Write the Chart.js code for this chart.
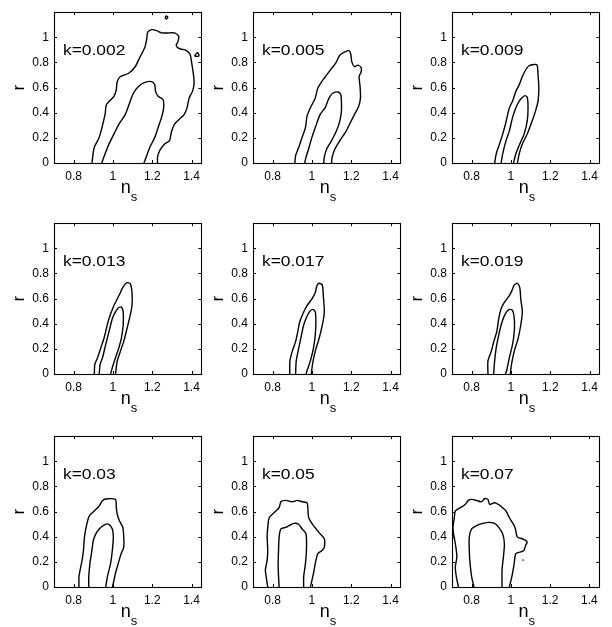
<!DOCTYPE html>
<html>
<head>
<meta charset="utf-8">
<script src="https://cdn.jsdelivr.net/npm/chart.js@4/dist/chart.umd.min.js"></script>
<style>
  html, body { margin: 0; padding: 0; background: #fff; overflow: hidden; }
  #wrap { position: relative; width: 612px; height: 627px; }
  #wrap canvas { position: absolute; }
</style>
</head>
<body>
<div id="wrap"></div>
<script>
// Axis ticks shared by every panel
const xTicks = [0.8, 1, 1.2, 1.4];
const yTicks = [0, 0.2, 0.4, 0.6, 0.8, 1];
const kLabels = ["k=0.002", "k=0.005", "k=0.009", "k=0.013", "k=0.017", "k=0.019", "k=0.03", "k=0.05", "k=0.07"];

// Contours, as [ns, r] pairs
const outer002 = [[0.893,0],[0.905,0.125],[0.930,0.204],[0.960,0.387],[0.967,0.465],[1.005,0.531],[1.017,0.583],[1.022,0.648],[1.038,0.688],[1.080,0.714],[1.113,0.766],[1.138,0.844],[1.163,0.923],[1.172,0.988],[1.177,1.041],[1.197,1.061],[1.222,1.054],[1.247,1.035],[1.280,1.035],[1.313,1.035],[1.335,1.009],[1.330,0.962],[1.322,0.936],[1.338,0.910],[1.372,0.897],[1.393,0.863],[1.400,0.805],[1.410,0.701],[1.413,0.635],[1.405,0.570],[1.388,0.518],[1.377,0.439],[1.363,0.387],[1.338,0.348],[1.313,0.308],[1.297,0.243],[1.288,0.178],[1.263,0.152],[1.238,0.099],[1.227,0.047],[1.227,0]];
const inner002 = [[0.943,0],[0.960,0.073],[0.980,0.152],[1.005,0.230],[1.030,0.308],[1.063,0.387],[1.088,0.492],[1.105,0.557],[1.130,0.609],[1.163,0.641],[1.197,0.648],[1.213,0.622],[1.217,0.570],[1.230,0.531],[1.255,0.505],[1.258,0.439],[1.247,0.361],[1.230,0.282],[1.213,0.204],[1.188,0.125],[1.172,0.060],[1.158,0]];
const islandA002 = [[1.265,1.158],[1.272,1.170],[1.279,1.158],[1.272,1.146],[1.265,1.158]];
const islandB002 = [[1.415,0.850],[1.430,0.880],[1.438,0.850],[1.415,0.850]];

const outer005 = [[0.913,0],[0.917,0.060],[0.933,0.125],[0.950,0.204],[0.967,0.282],[0.975,0.374],[0.992,0.439],[1.017,0.518],[1.030,0.596],[1.050,0.648],[1.075,0.701],[1.100,0.753],[1.120,0.792],[1.142,0.858],[1.167,0.884],[1.187,0.894],[1.197,0.871],[1.203,0.805],[1.217,0.766],[1.233,0.779],[1.250,0.761],[1.250,0.722],[1.240,0.688],[1.245,0.609],[1.247,0.518],[1.238,0.452],[1.217,0.387],[1.200,0.335],[1.175,0.256],[1.142,0.178],[1.117,0.112],[1.103,0.047],[1.100,0]];
const inner005 = [[0.963,0],[0.970,0.047],[0.983,0.112],[1.000,0.204],[1.017,0.282],[1.042,0.387],[1.067,0.439],[1.080,0.492],[1.092,0.531],[1.108,0.557],[1.133,0.565],[1.147,0.544],[1.150,0.492],[1.150,0.413],[1.142,0.335],[1.125,0.256],[1.100,0.178],[1.075,0.112],[1.063,0.047],[1.060,0]];

const outer009 = [[0.917,0],[0.925,0.073],[0.942,0.152],[0.958,0.230],[0.972,0.308],[0.992,0.439],[1.008,0.492],[1.025,0.570],[1.042,0.622],[1.058,0.688],[1.075,0.740],[1.092,0.774],[1.117,0.784],[1.133,0.779],[1.138,0.701],[1.142,0.596],[1.138,0.492],[1.125,0.413],[1.108,0.335],[1.083,0.230],[1.058,0.152],[1.042,0.073],[1.033,0]];
const inner009 = [[0.950,0],[0.958,0.073],[0.975,0.178],[0.992,0.256],[1.008,0.361],[1.025,0.439],[1.042,0.492],[1.055,0.518],[1.072,0.536],[1.083,0.523],[1.087,0.439],[1.083,0.335],[1.067,0.230],[1.045,0.152],[1.025,0.073],[1.013,0]];

const outer013 = [[0.905,0],[0.908,0.078],[0.922,0.130],[0.938,0.208],[0.955,0.286],[0.967,0.364],[0.980,0.442],[1.005,0.545],[1.022,0.597],[1.038,0.649],[1.055,0.701],[1.072,0.727],[1.088,0.719],[1.097,0.649],[1.097,0.545],[1.088,0.468],[1.072,0.364],[1.055,0.260],[1.038,0.182],[1.022,0.104],[1.013,0]];
const inner013 = [[0.930,0],[0.935,0.078],[0.947,0.130],[0.963,0.234],[0.980,0.338],[0.997,0.442],[1.013,0.494],[1.027,0.525],[1.043,0.532],[1.052,0.494],[1.052,0.390],[1.043,0.286],[1.030,0.208],[1.013,0.130],[0.997,0.052],[0.988,0]];

const outer017 = [[0.887,0],[0.888,0.104],[0.900,0.182],[0.917,0.260],[0.928,0.338],[0.938,0.416],[0.958,0.494],[0.975,0.545],[1.000,0.597],[1.017,0.649],[1.025,0.701],[1.037,0.722],[1.053,0.706],[1.058,0.623],[1.063,0.494],[1.053,0.390],[1.037,0.286],[1.017,0.182],[1.003,0.078],[0.997,0]];
const inner017 = [[0.917,0],[0.920,0.104],[0.933,0.208],[0.947,0.312],[0.958,0.390],[0.970,0.442],[0.987,0.494],[1.003,0.514],[1.017,0.494],[1.020,0.416],[1.017,0.312],[1.008,0.208],[0.992,0.104],[0.975,0.026],[0.970,0]];

const outer019 = [[0.883,0],[0.883,0.104],[0.900,0.182],[0.913,0.260],[0.928,0.338],[0.938,0.442],[0.950,0.519],[0.967,0.571],[0.992,0.623],[1.008,0.675],[1.017,0.709],[1.033,0.722],[1.045,0.688],[1.050,0.597],[1.058,0.494],[1.050,0.390],[1.037,0.286],[1.017,0.182],[1.003,0.078],[0.997,0]];
const inner019 = [[0.912,0],[0.917,0.104],[0.925,0.208],[0.938,0.312],[0.955,0.416],[0.972,0.481],[0.992,0.514],[1.008,0.506],[1.017,0.442],[1.017,0.338],[1.008,0.234],[0.992,0.130],[0.978,0.026],[0.972,0]];

const outer03 = [[0.827,0],[0.827,0.083],[0.833,0.136],[0.843,0.214],[0.850,0.292],[0.855,0.397],[0.867,0.501],[0.880,0.566],[0.905,0.605],[0.930,0.644],[0.947,0.689],[0.972,0.702],[1.013,0.697],[1.017,0.631],[1.022,0.579],[1.033,0.527],[1.050,0.475],[1.055,0.397],[1.055,0.318],[1.042,0.266],[1.027,0.188],[1.013,0.110],[1.002,0.031],[0.997,0]];
const inner03 = [[0.877,0],[0.877,0.083],[0.883,0.188],[0.893,0.292],[0.900,0.370],[0.913,0.423],[0.930,0.462],[0.955,0.493],[0.977,0.501],[0.997,0.462],[1.002,0.397],[0.997,0.292],[0.988,0.188],[0.972,0.083],[0.963,0]];

const outer05 = [[0.775,0],[0.767,0.083],[0.763,0.136],[0.772,0.214],[0.775,0.292],[0.772,0.397],[0.775,0.475],[0.783,0.553],[0.808,0.592],[0.833,0.631],[0.842,0.678],[0.867,0.689],[0.900,0.678],[0.925,0.689],[0.950,0.678],[0.975,0.670],[0.980,0.605],[0.983,0.553],[1.008,0.488],[1.042,0.423],[1.063,0.384],[1.063,0.318],[1.053,0.292],[1.030,0.266],[1.017,0.188],[1.008,0.110],[0.997,0.031],[0.992,0]];
const inner05 = [[0.833,0],[0.830,0.083],[0.828,0.188],[0.830,0.292],[0.833,0.397],[0.842,0.462],[0.867,0.475],[0.883,0.488],[0.908,0.506],[0.930,0.501],[0.950,0.462],[0.970,0.423],[0.972,0.292],[0.967,0.188],[0.958,0.083],[0.958,0]];

const outer07 = [[0.733,0],[0.722,0.083],[0.717,0.162],[0.725,0.240],[0.717,0.344],[0.708,0.423],[0.705,0.475],[0.712,0.553],[0.717,0.605],[0.742,0.631],[0.767,0.657],[0.783,0.689],[0.800,0.697],[0.825,0.689],[0.850,0.678],[0.867,0.704],[0.883,0.697],[0.892,0.657],[0.917,0.670],[0.942,0.652],[0.958,0.631],[0.975,0.605],[0.992,0.553],[1.017,0.488],[1.025,0.449],[1.033,0.397],[1.058,0.384],[1.075,0.371],[1.083,0.357],[1.075,0.331],[1.067,0.292],[1.050,0.279],[1.025,0.266],[1.017,0.188],[1.005,0.083],[0.992,0]];
const inner07 = [[0.812,0],[0.800,0.083],[0.792,0.188],[0.788,0.292],[0.788,0.397],[0.800,0.462],[0.825,0.488],[0.858,0.506],[0.888,0.514],[0.917,0.506],[0.938,0.475],[0.958,0.423],[0.967,0.344],[0.962,0.240],[0.955,0.136],[0.955,0]];
const speck07 = [[1.062,0.214]];

const panelContours = [
  [outer002, inner002, islandA002, islandB002],
  [outer005, inner005],
  [outer009, inner009],
  [outer013, inner013],
  [outer017, inner017],
  [outer019, inner019],
  [outer03, inner03],
  [outer05, inner05],
  [outer07, inner07]
];
const panelSpecks = [[], [], [], [], [], [], [], [], speck07];

// Layout of the 3x3 grid (left/top of each canvas)
const colLeft = [6, 205, 404];
const rowTop = [0, 211, 424];
const CW = 200, CH = 203;
const FONT = '"Liberation Sans", Arial, Helvetica, sans-serif';

// Frame, inward ticks, panel label and axis titles
const framePlugin = {
  id: "frame",
  afterDraw(chart, args, opts) {
    const { ctx, chartArea: a, scales: { x, y } } = chart;
    ctx.save();
    ctx.strokeStyle = "#000";
    ctx.lineWidth = 1.1;
    ctx.strokeRect(Math.round(a.left) + 0.5, Math.round(a.top) + 0.5, Math.round(a.width), Math.round(a.height));

    ctx.lineWidth = 1;
    ctx.beginPath();
    xTicks.forEach(v => {
      const px = Math.round(x.getPixelForValue(v)) + 0.5;
      ctx.moveTo(px, a.bottom); ctx.lineTo(px, a.bottom - 3);
      ctx.moveTo(px, a.top); ctx.lineTo(px, a.top + 3);
    });
    yTicks.forEach(v => {
      const py = Math.round(y.getPixelForValue(v)) + 0.5;
      ctx.moveTo(a.left, py); ctx.lineTo(a.left + 3, py);
      ctx.moveTo(a.right, py); ctx.lineTo(a.right - 3, py);
    });
    ctx.stroke();

    ctx.fillStyle = "#000";
    // k label, slightly widened like the original
    ctx.save();
    ctx.font = "14.5px " + FONT;
    ctx.textBaseline = "middle";
    ctx.textAlign = "left";
    ctx.translate(a.left + 9, a.top + 39);
    ctx.scale(1.2, 1);
    ctx.fillText(opts.label, 0, 0);
    ctx.restore();

    // y title
    ctx.save();
    ctx.font = "16px " + FONT;
    ctx.textAlign = "center";
    ctx.textBaseline = "middle";
    ctx.translate(a.left - 34, (a.top + a.bottom) / 2);
    ctx.rotate(-Math.PI / 2);
    ctx.fillText("r", 0, 0);
    ctx.restore();

    // x title n_s
    const mx = (a.left + a.right) / 2;
    ctx.textAlign = "left";
    ctx.textBaseline = "alphabetic";
    ctx.font = "18px " + FONT;
    ctx.fillText("n", mx - 7, a.bottom + 30);
    const nw = ctx.measureText("n").width;
    ctx.font = "13px " + FONT;
    ctx.fillText("s", mx - 7 + nw, a.bottom + 38);
    ctx.restore();
  }
};

function tickText(v) {
  return String(+Number(v).toFixed(2));
}

const wrap = document.getElementById("wrap");

panelContours.forEach((contours, i) => {
  const canvas = document.createElement("canvas");
  canvas.width = CW;
  canvas.height = CH;
  canvas.style.left = colLeft[i % 3] + "px";
  canvas.style.top = rowTop[Math.floor(i / 3)] + "px";
  wrap.appendChild(canvas);

  const datasets = contours.map(c => ({
    data: c.map(p => ({ x: p[0], y: p[1] })),
    showLine: true,
    pointRadius: 0,
    borderColor: "#000",
    borderWidth: 1.4,
    tension: 0.25
  }));
  if (panelSpecks[i].length) {
    datasets.push({
      data: panelSpecks[i].map(p => ({ x: p[0], y: p[1] })),
      showLine: false,
      pointRadius: 0.8,
      backgroundColor: "#000",
      borderWidth: 0
    });
  }

  new Chart(canvas, {
    type: "scatter",
    data: { datasets },
    options: {
      responsive: false,
      animation: false,
      devicePixelRatio: 1,
      layout: { padding: { left: 0, top: 10, right: 2, bottom: 0 } },
      plugins: {
        legend: { display: false },
        tooltip: { enabled: false },
        frame: { label: kLabels[i] }
      },
      scales: {
        x: {
          type: "linear",
          min: 0.7,
          max: 1.45,
          afterBuildTicks: s => { s.ticks = xTicks.map(v => ({ value: v })); },
          afterFit: s => { s.height = CH - 10 - 153; },
          grid: { display: false, drawTicks: false, tickLength: 0 },
          border: { display: false },
          ticks: { color: "#000", padding: 6, maxRotation: 0, autoSkip: false, font: { family: FONT, size: 12 }, callback: tickText }
        },
        y: {
          type: "linear",
          min: 0,
          max: 1.2,
          afterBuildTicks: s => { s.ticks = yTicks.map(v => ({ value: v })); },
          afterFit: s => { s.width = 48; },
          grid: { display: false, drawTicks: false, tickLength: 0 },
          border: { display: false },
          ticks: { color: "#000", padding: 5, autoSkip: false, font: { family: FONT, size: 12 }, callback: tickText }
        }
      }
    },
    plugins: [framePlugin]
  });
});
</script>
</body>
</html>
